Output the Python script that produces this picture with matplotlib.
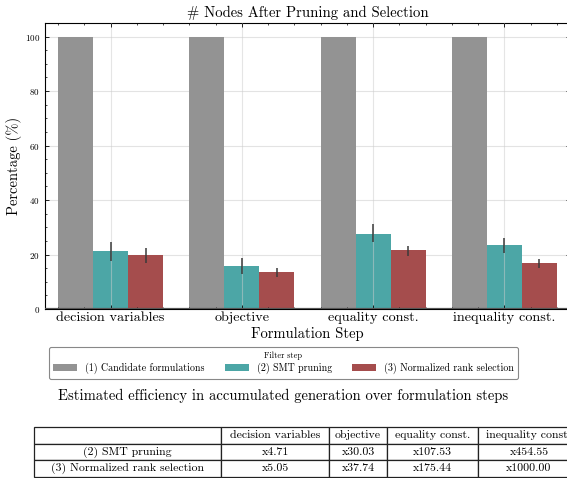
import numpy as np
import matplotlib
matplotlib.use("Agg")
import matplotlib.pyplot as plt
from matplotlib.ticker import AutoMinorLocator, MultipleLocator

plt.rcParams['font.family'] = ['cmr10', 'DejaVu Serif']
plt.rcParams['axes.formatter.use_mathtext'] = True
plt.rcParams['mathtext.fontset'] = 'cm'

steps = ['decision variables', 'objective', 'equality const.', 'inequality const.']
filters = ['(1) Candidate formulations', '(2) SMT pruning', '(3) Normalized rank selection']
colors = ['#939393', '#4ca6a6', '#a54d4d']

# mean percentage of nodes kept and error bar ends (low, high)
candidate = [100.0, 100.0, 100.0, 100.0]
candidate_lo = [100.0, 100.0, 100.0, 100.0]
candidate_hi = [100.0, 100.0, 100.0, 100.0]
smt = [21.2, 15.7, 27.7, 23.4]
smt_lo = [17.6, 12.8, 24.7, 20.5]
smt_hi = [24.7, 18.7, 31.3, 25.9]
rank = [19.7, 13.6, 21.5, 16.9]
rank_lo = [16.9, 11.7, 19.3, 15.2]
rank_hi = [22.4, 15.1, 23.1, 18.2]

table_rows = ['(2) SMT pruning', '(3) Normalized rank selection']
table_vals = [['x4.71', 'x30.03', 'x107.53', 'x454.55'],
              ['x5.05', 'x37.74', 'x175.44', 'x1000.00']]

fig = plt.figure(figsize=(5.67, 4.78), dpi=100)
ax = fig.add_axes([45 / 567, 1 - 309 / 478, 525 / 567, 286 / 478])

x = np.arange(len(steps))
width = 0.8 / 3
series = [(candidate, candidate_lo, candidate_hi),
          (smt, smt_lo, smt_hi),
          (rank, rank_lo, rank_hi)]
for i, (vals, lo, hi) in enumerate(series):
    vals = np.array(vals)
    err = np.vstack([vals - np.array(lo), np.array(hi) - vals])
    pos = x + (i - 1) * width
    ax.bar(pos, vals, width, color=colors[i], label=filters[i], zorder=2)
    ax.errorbar(pos, vals, yerr=err, fmt='none', ecolor='#3a3a3a',
                elinewidth=1.1, capsize=0, zorder=3)

ax.set_xlim(-0.5, 3.5)
ax.set_ylim(0, 105)
ax.set_xticks(x)
ax.set_xticklabels(steps, fontsize=10.2)
ax.yaxis.set_major_locator(MultipleLocator(20))
ax.yaxis.set_minor_locator(AutoMinorLocator(4))
ax.xaxis.set_minor_locator(AutoMinorLocator(5))
ax.tick_params(axis='y', labelsize=6.5)
ax.tick_params(which='both', direction='in', top=True, right=True)
ax.tick_params(which='major', length=3, width=0.6)
ax.tick_params(which='minor', length=1.5, width=0.5)
ax.tick_params(axis='x', pad=2)
ax.set_axisbelow(True)
ax.yaxis.grid(True, color='#e3e3e3', linewidth=0.8)
# vertical grid sits faintly over the middle bars
ax.xaxis.grid(True, color='#cccccc', linewidth=0.8, alpha=0.5)
ax.xaxis.set_zorder(2.5)
for s in ax.spines.values():
    s.set_linewidth(0.8)
ax.axhline(0, color='#555555', linewidth=1.6, zorder=4)

ax.set_title('# Nodes After Pruning and Selection', fontsize=10.6, pad=4)
ax.set_ylabel('Percentage (%)', fontsize=10.5, labelpad=2)
ax.set_xlabel('Formulation Step', fontsize=10.5, labelpad=2)

leg = ax.legend(loc='upper center', bbox_to_anchor=(0.5, 1 - 342 / 478),
                bbox_transform=fig.transFigure, ncol=3, fontsize=7.2,
                title='Filter step', title_fontsize=6, frameon=True,
                fancybox=True, edgecolor='#888888', framealpha=1,
                handlelength=2.4, handleheight=0.8, columnspacing=2.0,
                borderpad=0.45, labelspacing=0.3, handletextpad=0.8)
leg.get_frame().set_linewidth(0.8)

fig.text(0.5, 1 - 396 / 478,
         'Estimated efficiency in accumulated generation over formulation steps',
         ha='center', va='center', fontsize=10.5)

# efficiency table, laid out in its own blank axes
tax = fig.add_axes([34 / 567, 1 - 477 / 478, 546 / 567, 50 / 478])
tax.axis('off')
col_w = np.array([187, 108, 58, 91, 102], dtype=float)
cells = [[''] + steps] + [[r] + v for r, v in zip(table_rows, table_vals)]
tbl = tax.table(cellText=cells, colWidths=list(col_w / col_w.sum()),
                cellLoc='center', bbox=[0, 0, 1, 1])
tbl.auto_set_font_size(False)
tbl.set_fontsize(8.5)
for cell in tbl.get_celld().values():
    cell.set_linewidth(0.9)
    cell.set_edgecolor('#222222')

fig.savefig('out.png', dpi=100)
